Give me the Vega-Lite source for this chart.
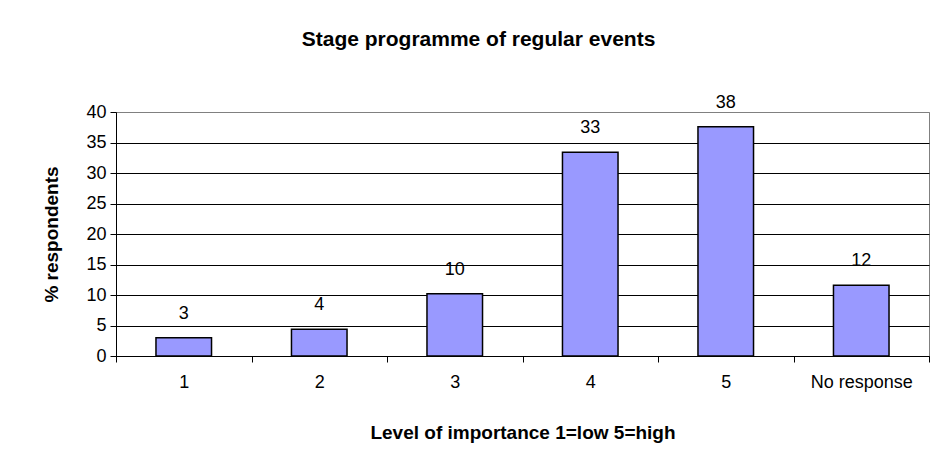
{
  "$schema": "https://vega.github.io/schema/vega-lite/v6.json",
  "autosize": "none",
  "width": 813,
  "height": 244,
  "padding": {"left": 116, "top": 112, "right": 8, "bottom": 114},
  "background": "white",
  "title": {
    "text": "Stage programme of regular events",
    "font": "Liberation Sans",
    "fontSize": 21,
    "fontWeight": "bold",
    "color": "black",
    "anchor": "middle",
    "dx": -44,
    "offset": 44
  },
  "data": {
    "values": [
      {"level": "1", "pct": 3.0},
      {"level": "2", "pct": 4.4},
      {"level": "3", "pct": 10.2},
      {"level": "4", "pct": 33.4},
      {"level": "5", "pct": 37.6},
      {"level": "No response", "pct": 11.6}
    ]
  },
  "encoding": {
    "x": {
      "field": "level",
      "type": "nominal",
      "sort": null,
      "scale": {"paddingInner": 0, "paddingOuter": 0},
      "axis": {
        "title": "Level of importance 1=low 5=high",
        "labelAngle": 0,
        "tickBand": "extent",
        "tickSize": 6,
        "tickColor": "black",
        "domainColor": "black",
        "labelPadding": 11,
        "titlePadding": 32
      }
    },
    "y": {
      "field": "pct",
      "type": "quantitative",
      "scale": {"domain": [0, 40], "nice": false},
      "axis": {
        "title": "% respondents",
        "values": [0, 5, 10, 15, 20, 25, 30, 35, 40],
        "tickSize": 6,
        "tickColor": "black",
        "domainColor": "black",
        "labelPadding": 4,
        "titlePadding": 24,
        "gridColor": {"condition": {"test": "datum.value == 40", "value": "#808080"}, "value": "black"}
      }
    }
  },
  "layer": [
    {
      "mark": {"type": "bar", "width": {"band": 0.41}, "fill": "#9999FF", "stroke": "black", "strokeWidth": 1.5}
    },
    {
      "mark": {"type": "text", "baseline": "alphabetic", "dy": -19, "font": "Liberation Sans", "fontSize": 18, "color": "black"},
      "encoding": {"text": {"field": "pct", "type": "quantitative", "format": ".0f"}}
    }
  ],
  "config": {
    "view": {"stroke": "#808080", "strokeWidth": 1},
    "axis": {
      "labelFont": "Liberation Sans",
      "labelFontSize": 18,
      "labelColor": "black",
      "titleFont": "Liberation Sans",
      "titleFontSize": 19,
      "titleFontWeight": "bold",
      "titleColor": "black",
      "grid": true,
      "gridWidth": 1,
      "gridOpacity": 1
    },
    "axisX": {"grid": false}
  }
}
